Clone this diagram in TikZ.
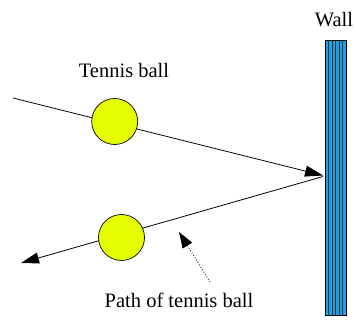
\documentclass[tikz,border=0pt]{standalone}
\usepackage{fontspec}
\setmainfont{Liberation Serif}
\usetikzlibrary{arrows.meta}
\definecolor{ballyellow}{RGB}{230,255,0}
\definecolor{wallblue}{RGB}{30,160,230}
\tikzset{
  ball/.style={circle,draw=black,line width=0.7pt,fill=ballyellow,minimum size=46pt,inner sep=0pt},
  bigtip/.tip={Triangle[length=18pt,width=11pt]},
  path line/.style={line width=0.8pt,-bigtip},
  label text/.style={font=\rmfamily\fontsize{20.5}{24}\selectfont,inner sep=0pt},
}
\begin{document}
\begin{tikzpicture}[x=1pt,y=-1pt]
\useasboundingbox (0,0) rectangle (357,320);
% wall
\node[draw=black,line width=0.8pt,fill=wallblue,minimum width=21pt,minimum height=275pt,inner sep=0pt,anchor=north west] (wall) at (325,40.5) {};
\foreach \k in {1,...,5}{
  \draw[line width=0.6pt,black!80] ([xshift=3.5*\k pt]wall.north west) -- ([xshift=3.5*\k pt]wall.south west);
}
\node[label text] (walltext) at (334,20) {Wall};
% path
\coordinate (start) at (13,98);
\coordinate (hit) at (323,175.5);
\coordinate (hit2) at (323,176.5);
\coordinate (end) at (21,263);
\draw[path line] (start) -- (hit);
\draw[path line] (hit2) -- (end);
\node[ball] (ball1) at (114.7,121.5) {};
\node[ball] (ball2) at (121.5,237.5) {};
\node[label text] (balltext) at (124,70) {Tennis ball};
\node[label text] (pathtext) at (179,300) {Path of tennis ball};
\coordinate (dotstart) at (210,282);
\coordinate (dottip) at (179,232);
\draw[line width=0.8pt,dotted,-{Triangle[length=16pt,width=11pt]}] (dotstart) -- (dottip);
\end{tikzpicture}
\end{document}
